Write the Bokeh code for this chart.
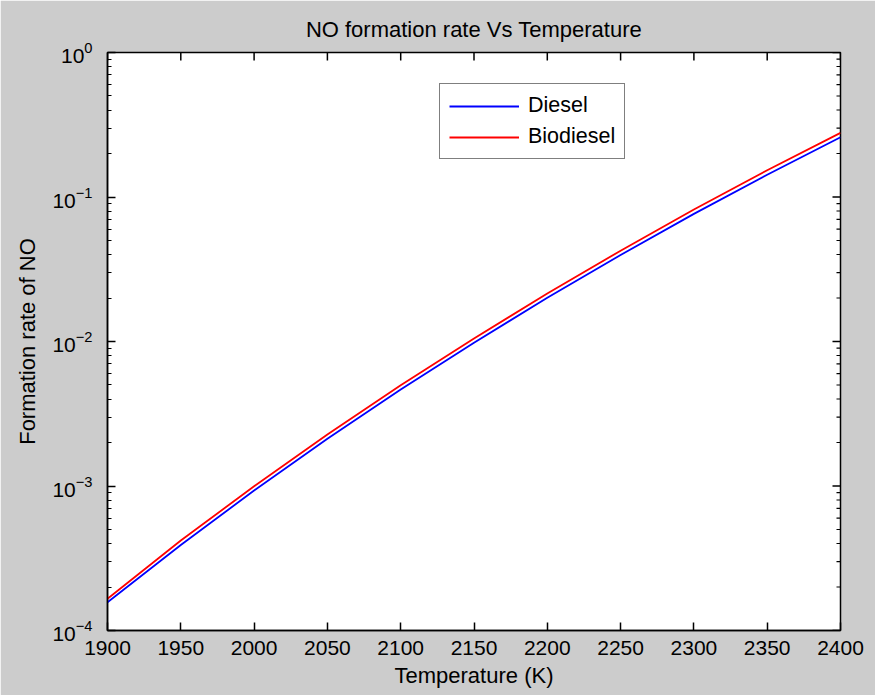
import math
from bokeh.plotting import figure
from bokeh.models import FixedTicker, Legend, LegendItem, Range1d
from bokeh.embed import file_html
from bokeh.resources import INLINE

# Data
temperature = [1900, 1950, 2000, 2050, 2100, 2150, 2200, 2250, 2300, 2350, 2400]
diesel = [1.57e-4, 3.91e-4, 9.3e-4, 2.12e-3, 4.65e-3, 9.8e-3, 0.0201, 0.0397, 0.0764, 0.1426, 0.259]
biodiesel = [1.66e-4, 4.2e-4, 9.95e-4, 2.27e-3, 4.98e-3, 1.05e-2, 0.0215, 0.0425, 0.082, 0.153, 0.278]
x_ticks = [1900, 1950, 2000, 2050, 2100, 2150, 2200, 2250, 2300, 2350, 2400]
y_ticks = [1e-4, 1e-3, 1e-2, 1e-1, 1e0]
y_minor = [m * d for d in y_ticks[:-1] for m in range(2, 10)]

FONT = "Liberation Sans"
GRAY = "#cccccc"

p = figure(width=875, height=695, output_backend="svg", toolbar_location=None,
           y_axis_type="log", x_range=Range1d(1900, 2400), y_range=Range1d(1e-4, 1),
           title="NO formation rate Vs Temperature",
           min_border_left=107, min_border_right=35, min_border_top=52, min_border_bottom=65)

p.border_fill_color = GRAY
p.background_fill_color = "white"
p.outline_line_color = "black"
p.outline_line_width = 1.5
p.grid.visible = False

p.title.align = "center"
p.title.text_font = FONT
p.title.text_font_size = "22px"
p.title.text_font_style = "normal"
p.title.text_color = "black"
p.title.standoff = 22

l1 = p.line(temperature, diesel, line_color="#0000ff", line_width=1.8)
l2 = p.line(temperature, biodiesel, line_color="#ff0000", line_width=1.8)

# Inside ticks on the top and right edges (half of each dash is clipped by the frame)
x_top = x_ticks
y_top = [y_ticks[-1]] * len(x_ticks)
p.scatter(x_top, y_top, marker="dash", angle=math.pi / 2, size=16,
          line_color="black", line_width=1.5)
p.scatter([x_ticks[-1]] * len(y_ticks), y_ticks, marker="dash", size=16,
          line_color="black", line_width=1.5)
p.scatter([x_ticks[-1]] * len(y_minor), y_minor, marker="dash", size=8,
          line_color="black", line_width=1.2)

def style_axis(ax, minor=True):
    ax.axis_line_color = "black"
    ax.axis_line_width = 1.5
    ax.major_tick_in = 8
    ax.major_tick_out = 0
    ax.major_tick_line_color = "black"
    ax.major_tick_line_width = 1.5
    if minor:
        ax.minor_tick_in = 4
        ax.minor_tick_out = 0
        ax.minor_tick_line_color = "black"
        ax.minor_tick_line_width = 1.2
    else:
        ax.minor_tick_line_color = None
    ax.major_label_text_font = FONT
    ax.major_label_text_font_size = "21px"
    ax.major_label_text_color = "black"
    ax.axis_label_text_font = FONT
    ax.axis_label_text_font_size = "22px"
    ax.axis_label_text_font_style = "normal"
    ax.axis_label_text_color = "black"

xax = p.xaxis[0]
xax.ticker = FixedTicker(ticks=x_ticks, minor_ticks=[])
style_axis(xax, minor=False)
xax.axis_label = "Temperature (K)"
xax.major_label_standoff = 10
xax.axis_label_standoff = 5

yax = p.yaxis[0]
style_axis(yax)
yax.axis_label = "Formation rate of NO"
yax.major_label_standoff = 15
yax.axis_label_standoff = 9

legend = Legend(items=[LegendItem(label="Diesel", renderers=[l1]),
                       LegendItem(label="Biodiesel", renderers=[l2])],
                location=(332, 471))
legend.label_text_font = FONT
legend.label_text_font_size = "21.5px"
legend.label_text_color = "black"
legend.glyph_width = 70
legend.glyph_height = 20
legend.label_height = 20
legend.label_standoff = 9
legend.spacing = 6
legend.padding = 9
legend.margin = 0
legend.border_line_color = "black"
legend.border_line_width = 1.5
legend.background_fill_color = "white"
legend.background_fill_alpha = 1
p.add_layout(legend, "center")

open("out.html", "w").write(file_html(p, INLINE))
